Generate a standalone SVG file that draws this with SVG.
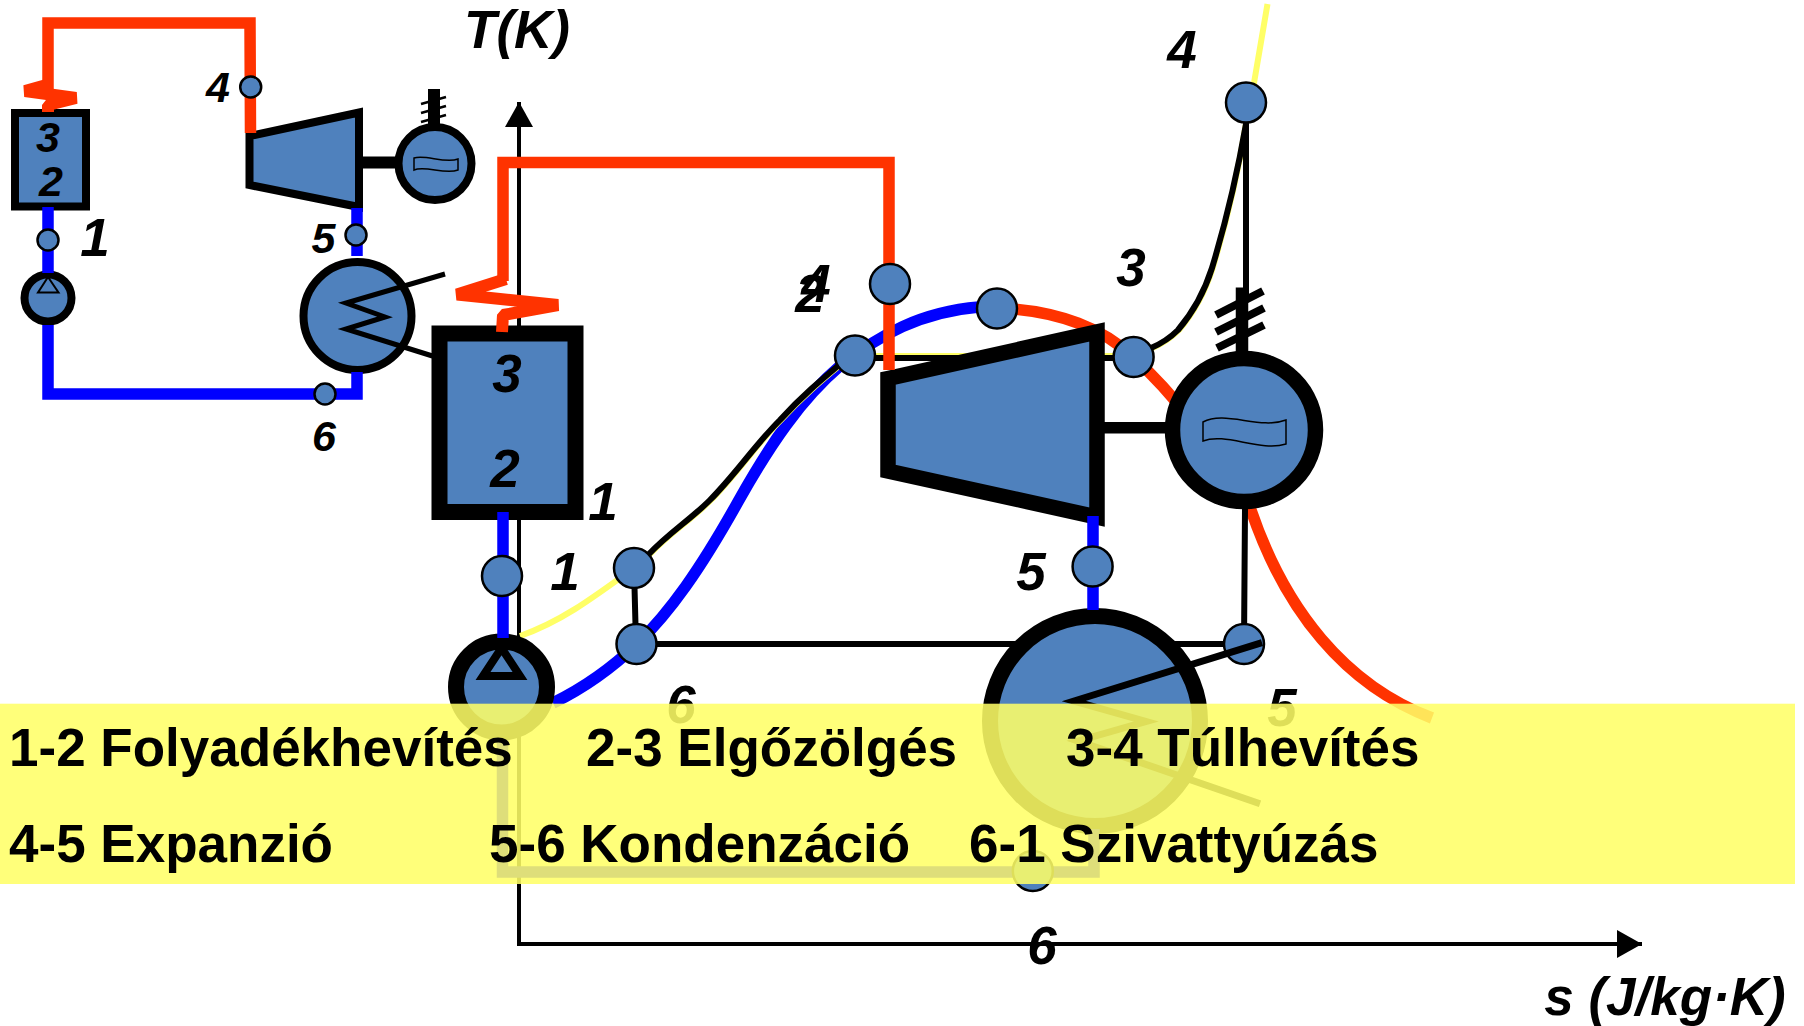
<svg xmlns="http://www.w3.org/2000/svg" width="1804" height="1026" viewBox="0 0 1804 1026">
<style>
.eq{fill:#4F81BD;stroke:#000;stroke-miterlimit:10}
.pt{fill:#4F81BD;stroke:#000;stroke-width:2.5}
.red{fill:none;stroke:#FF3300;stroke-width:11.5;stroke-miterlimit:10}
.zig{fill:none;stroke:#FF3300;stroke-width:12;stroke-linejoin:bevel}
.blue{fill:none;stroke:#0000FF;stroke-width:11.5}
.blk{fill:none;stroke:#000;stroke-width:6}
.lab{font-family:"Liberation Sans",Arial,sans-serif;font-weight:bold;font-style:italic;font-size:53px;text-anchor:middle;fill:#000}
.sm{font-size:43px}
.ban{font-family:"Liberation Sans",Arial,sans-serif;font-weight:bold;font-size:53px;fill:#000}
</style>
<defs>
<marker id="ah" markerUnits="userSpaceOnUse" markerWidth="26" markerHeight="28" refX="25" refY="14" orient="auto"><path d="M0,0L25,14L0,28Z" fill="#000"/></marker>
</defs>
<rect width="1804" height="1026" fill="#fff"/>
<g id="ts-diagram">
<path d="M519,944L519,102" fill="none" stroke="#000" stroke-width="4" marker-end="url(#ah)"/>
<path d="M517,944L1642,944" fill="none" stroke="#000" stroke-width="4" marker-end="url(#ah)"/>
<path class="blue" d="M553,703C590,685 615,665 637,644C670,612 700,570 739,500C770,445 800,400 841,365C880,335 920,312 979,307"/>
<path fill="none" stroke="#FF3300" stroke-width="11.5" d="M997,308C1060,310 1105,330 1133,357C1170,390 1210,440 1251,510C1285,610 1345,685 1432,718"/>
<path fill="none" stroke="#FFFF66" stroke-width="6" d="M520,636C560,622 590,600 634,568L649.5,554.5C670.5,532.5 690.5,520.5 710.5,500.5C735.5,475.5 755.5,445.5 780.5,420.5C800.5,398.5 818.5,382.5 855.5,352.5"/>
<path fill="none" stroke="#FFFF66" stroke-width="6" d="M855,356L1133,356L1151.5,348.5C1165.5,342.5 1172.5,336.5 1178.5,330.5C1195.5,310.5 1205.5,290.5 1212.5,268.5C1225.5,225.5 1238.5,170.5 1246,124L1254,83L1267.5,4"/>
<path class="blk" d="M649,554C670,532 690,520 710,500C735,475 755,445 780,420C800,398 818,382 855,352"/>
<path class="blk" d="M855,358L1133,358M1151,348C1165,342 1172,336 1178,330C1195,310 1205,290 1212,268C1225,225 1238,170 1246,124M1246,102L1246,300M634,568L636,644M636,644L1244,644M1245,509L1244,644"/>
<circle class="pt" cx="1244" cy="644" r="20"/>
</g>
<g id="pump-small"><circle class="eq" cx="48" cy="298" r="23.5" stroke-width="8"/><path d="M48,277L38,292.5L58.5,292.5Z" fill="none" stroke="#000" stroke-width="2"/></g>
<g id="pump-big"><circle class="eq" cx="501.5" cy="687" r="45.5" stroke-width="16"/><path d="M501.5,648L483,676L520,676Z" fill="none" stroke="#000" stroke-width="8" stroke-miterlimit="10"/></g>
<g id="condenser-small"><circle class="eq" cx="357.5" cy="316" r="54" stroke-width="8"/><path d="M445,274L346,303L385,317L346,329L432.5,356" fill="none" stroke="#000" stroke-width="5" stroke-miterlimit="10"/></g>
<g id="condenser-big"><circle class="eq" cx="1095" cy="721" r="105" stroke-width="16"/><path d="M1262,642.6L1074,701L1146,721.5L1078,741L1260,803.7" fill="none" stroke="#000" stroke-width="7" stroke-miterlimit="10"/></g>
<g id="boiler-small"><rect class="eq" x="15" y="113" width="71" height="93.5" stroke-width="8"/></g>
<g id="boiler-big"><rect class="eq" x="439.5" y="333.5" width="136" height="178.5" stroke-width="16"/></g>
<g id="turbine-small"><polygon class="eq" points="249.5,136 359,112.5 359,207 249.5,185" stroke-width="8"/></g>
<g id="turbine-big"><polygon class="eq" points="888,378.5 1097,332 1097,517 888,471" stroke-width="15.5"/></g>
<g id="generator-small">
<path d="M362,162.5L396,162.5" stroke="#000" stroke-width="12"/>
<path d="M434,89L434,125" stroke="#000" stroke-width="12"/>
<path d="M421,104L446,97M421,113L446,106M421,122L446,115" stroke="#000" stroke-width="2.5"/>
<circle class="eq" cx="435" cy="163.6" r="36.5" stroke-width="8"/>
<path d="M414,158C425,154 445,164 458,159L458,170C445,175 425,165 414,170Z" fill="none" stroke="#000" stroke-width="1.5"/>
</g>
<g id="generator-big">
<path d="M1104,427.7L1170,427.7" stroke="#000" stroke-width="11.5"/>
<path d="M1242,287.5L1242,352" stroke="#000" stroke-width="12.5"/>
<path d="M1216,315L1263,291M1216,332L1264,308M1217,348L1264,325" stroke="#000" stroke-width="8"/>
<circle class="eq" cx="1244" cy="430" r="71.5" stroke-width="15.5"/>
<path d="M1203,422C1225,410 1260,430 1286,420L1286,444C1260,452 1225,432 1203,441Z" fill="none" stroke="#000" stroke-width="1.5"/>
</g>
<g id="connectors">
<path class="red" d="M48,90L48,23L250,23L250.5,133"/>
<path class="zig" d="M50,84L25,91L76,98L48,105L48,112"/>
<path class="blue" d="M48,207L48,273"/>
<path class="blue" d="M48,325L48,394L357,394L357,372"/>
<path class="blue" d="M357,208L357,256"/>
<path class="red" d="M503,281L503,162.5L889,162.5L889,370"/>
<path class="zig" d="M506,279L457,294.5L558,305L503,315L502,332"/>
<path class="blue" d="M503,512L503,638"/>
<path class="blue" d="M502.5,740L502.5,872L1094,872L1094,829"/>
<path class="blue" d="M1093,516L1093,610"/>
</g>
<g id="state-points">
<circle class="pt" cx="250.7" cy="87" r="10.5"/>
<circle class="pt" cx="48" cy="240" r="10.5"/>
<circle class="pt" cx="356" cy="235" r="10.5"/>
<circle class="pt" cx="325" cy="394" r="10.5"/>
<circle class="pt" cx="502" cy="576" r="20"/>
<circle class="pt" cx="634" cy="568" r="20"/>
<circle class="pt" cx="636.5" cy="644" r="20"/>
<circle class="pt" cx="855" cy="355.5" r="20"/>
<circle class="pt" cx="890" cy="284" r="20"/>
<circle class="pt" cx="997" cy="308.5" r="20"/>
<circle class="pt" cx="1133.6" cy="357" r="20"/>
<circle class="pt" cx="1246" cy="102.6" r="20"/>
<circle class="pt" cx="1092.6" cy="566.4" r="20"/>
<circle class="pt" cx="1032.8" cy="871" r="20"/>
</g>
<g id="labels">
<text class="lab" x="517" y="48">T(K)</text>
<text class="lab" x="1665" y="1015">s (J/kg·K)</text>
<text class="lab sm" x="48" y="152">3</text>
<text class="lab sm" x="51" y="196">2</text>
<text class="lab" x="95" y="256">1</text>
<text class="lab sm" x="218" y="102">4</text>
<text class="lab sm" x="323.5" y="253">5</text>
<text class="lab sm" x="324" y="451">6</text>
<text class="lab" x="507" y="392">3</text>
<text class="lab" x="505" y="487">2</text>
<text class="lab" x="603" y="520">1</text>
<text class="lab" x="565" y="590">1</text>
<text class="lab" x="816" y="302">4</text>
<text class="lab" x="810" y="312">2</text>
<text class="lab" x="1131" y="286">3</text>
<text class="lab" x="1182" y="68">4</text>
<text class="lab" x="1031" y="590">5</text>
<text class="lab" x="681" y="723">6</text>
<text class="lab" x="1282" y="726">5</text>
<text class="lab" x="1042" y="964">6</text>
</g>
<g id="legend">
<rect x="0" y="703.7" width="1795" height="180.3" fill="#FFFF66" fill-opacity="0.87"/>
<text class="ban" x="9" y="766">1-2 Folyadékhevítés</text>
<text class="ban" x="586" y="766">2-3 Elgőzölgés</text>
<text class="ban" x="1066" y="766">3-4 Túlhevítés</text>
<text class="ban" x="9" y="862">4-5 Expanzió</text>
<text class="ban" x="489" y="862">5-6 Kondenzáció</text>
<text class="ban" x="969" y="862">6-1 Szivattyúzás</text>
</g>
</svg>
